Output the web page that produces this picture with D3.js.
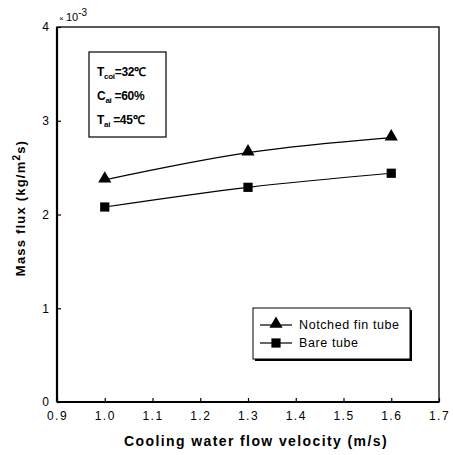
<!DOCTYPE html>
<html><head><meta charset="utf-8">
<script src="https://cdn.jsdelivr.net/npm/d3@7"></script>
<style>body{margin:0;background:#fff}svg{display:block}</style>
</head><body>
<svg id="c" width="453" height="455"></svg>
<script>
const velocity = [1.0, 1.3, 1.6];
const notched = [2.37, 2.66, 2.82];
const bare = [2.08, 2.29, 2.44];
const xTicks = [0.9, 1.0, 1.1, 1.2, 1.3, 1.4, 1.5, 1.6, 1.7];
const xTickLabels = ["0.9","1.0","1.1","1.2","1.3","1.4","1.5","1.6","1.7"];
const yTicks = [0, 1, 2, 3, 4];
const seriesNames = ["Notched fin tube", "Bare tube"];

const svg = d3.select("#c");
const L = 57, R = 439, T = 27, B = 402;
const x = d3.scaleLinear().domain([0.9, 1.7]).range([L, R]);
const y = d3.scaleLinear().domain([0, 4]).range([B, T]);
const font = "Liberation Sans, Arial, sans-serif";

// frame
svg.append("rect").attr("x", L).attr("y", T).attr("width", R - L).attr("height", B - T)
  .attr("fill", "none").attr("stroke", "#000").attr("stroke-width", 1.3);
svg.append("line").attr("x1", L).attr("x2", L).attr("y1", T).attr("y2", B).attr("stroke", "#000").attr("stroke-width", 2.2);
svg.append("line").attr("x1", L).attr("x2", R).attr("y1", B).attr("y2", B).attr("stroke", "#000").attr("stroke-width", 2.2);

// axes
const xAxis = d3.axisBottom(x).tickValues(xTicks).tickSize(-4).tickPadding(9)
  .tickFormat((d, i) => xTickLabels[i]);
const gx = svg.append("g").attr("transform", `translate(0,${B})`).call(xAxis);
gx.select(".domain").remove();
gx.selectAll("line").attr("stroke-width", 1.2);
gx.selectAll("text").attr("font-family", font).attr("font-size", 12).attr("letter-spacing", 1.5);

const yAxis = d3.axisLeft(y).tickValues(yTicks).tickSize(-4).tickPadding(8).tickFormat(d3.format("d"));
const gy = svg.append("g").attr("transform", `translate(${L},0)`).call(yAxis);
gy.select(".domain").remove();
gy.selectAll("line").attr("stroke-width", 1.2);
gy.selectAll("text").attr("font-family", font).attr("font-size", 12);

// exponent
const ex = svg.append("text").attr("x", L + 2).attr("y", 21).attr("font-family", font).attr("font-size", 11);
ex.append("tspan").attr("font-size", 8).text("× ");
ex.append("tspan").text("10");
ex.append("tspan").attr("dy", -5).attr("font-size", 10).text("-3");

// axis titles
svg.append("text").attr("x", 256).attr("y", 446).attr("text-anchor", "middle")
  .attr("font-family", font).attr("font-weight", "bold").attr("font-size", 14).attr("letter-spacing", 1.4)
  .text("Cooling water flow velocity (m/s)");
const yl = svg.append("text").attr("transform", "translate(25,208) rotate(-90)").attr("text-anchor", "middle")
  .attr("font-family", font).attr("font-weight", "bold").attr("font-size", 13).attr("letter-spacing", 1.2);
yl.append("tspan").text("Mass flux (kg/m");
yl.append("tspan").attr("dy", -5).attr("font-size", 10).text("2");
yl.append("tspan").attr("dy", 5).text("s)");

// lines
const line = d3.line().x((d, i) => x(velocity[i])).y(d => y(d)).curve(d3.curveMonotoneX);
[notched, bare].forEach(s => {
  svg.append("path").datum(s).attr("d", line).attr("fill", "none").attr("stroke", "#000").attr("stroke-width", 1.2);
});
const tri = d3.symbol().type(d3.symbolTriangle).size(75);
const sq = d3.symbol().type(d3.symbolSquare).size(85);
svg.selectAll(".tri").data(notched).join("path").attr("d", tri)
  .attr("transform", (d, i) => `translate(${x(velocity[i])},${y(d) - 1})`).attr("fill", "#000");
svg.selectAll(".sq").data(bare).join("path").attr("d", sq)
  .attr("transform", (d, i) => `translate(${x(velocity[i])},${y(d)})`).attr("fill", "#000");

// annotation box
svg.append("rect").attr("x", 89).attr("y", 52).attr("width", 77).attr("height", 85)
  .attr("fill", "#fff").attr("stroke", "#000").attr("stroke-width", 1.2);
const ann = [["T", "coi", "=32℃", 76], ["C", "ai", " =60%", 100], ["T", "ai", " =45℃", 124]];
ann.forEach(a => {
  const t = svg.append("text").attr("x", 97).attr("y", a[3]).attr("font-family", font)
    .attr("font-weight", "bold").attr("font-size", 12).attr("letter-spacing", -0.3);
  t.append("tspan").text(a[0]);
  t.append("tspan").attr("dy", 3).attr("font-size", 8).text(a[1]);
  t.append("tspan").attr("dy", -3).text(a[2]);
});

// legend
svg.append("rect").attr("x", 255).attr("y", 310).attr("width", 157).attr("height", 51).attr("fill", "#000");
svg.append("rect").attr("x", 253).attr("y", 308).attr("width", 157).attr("height", 51)
  .attr("fill", "#fff").attr("stroke", "#000").attr("stroke-width", 1);
const leg = [{name: seriesNames[0], sym: tri, y: 325, dy: -1}, {name: seriesNames[1], sym: sq, y: 343, dy: 0}];
leg.forEach(l => {
  svg.append("line").attr("x1", 260).attr("x2", 292).attr("y1", l.y).attr("y2", l.y).attr("stroke", "#000").attr("stroke-width", 1.2);
  svg.append("path").attr("d", l.sym).attr("transform", `translate(276,${l.y + l.dy})`).attr("fill", "#000");
  svg.append("text").attr("x", 299).attr("y", l.y + 4).attr("font-family", font).attr("font-size", 12.5)
    .attr("letter-spacing", 0.6).text(l.name);
});
</script>
</body></html>
